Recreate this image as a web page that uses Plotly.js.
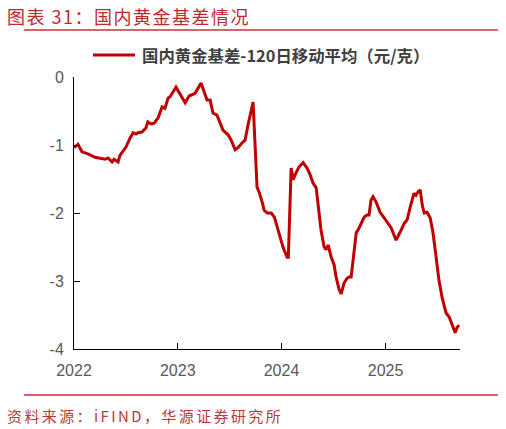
<!DOCTYPE html>
<html>
<head>
<meta charset="utf-8">
<script src="https://cdn.plot.ly/plotly-3.0.1.min.js"></script>
<style>
html,body{margin:0;padding:0;background:#fff;}
#chart{width:506px;height:429px;}
</style>
</head>
<body>
<div id="chart"></div>
<script>
// ---- data ----
const dates = [
"2022-01-01","2022-01-15","2022-01-29","2022-02-19","2022-03-16","2022-04-03","2022-04-20","2022-05-01","2022-05-15","2022-05-22",
"2022-06-05","2022-06-12","2022-07-03","2022-07-17","2022-07-28","2022-08-07","2022-08-14","2022-08-28","2022-09-11","2022-09-18",
"2022-09-29","2022-10-10","2022-10-24","2022-11-07","2022-11-17","2022-11-28","2022-12-05","2022-12-26","2023-01-09","2023-01-27",
"2023-02-10","2023-03-03","2023-03-24","2023-04-04","2023-04-14","2023-04-25","2023-05-05","2023-05-19","2023-05-30","2023-06-09",
"2023-06-27","2023-07-08","2023-07-22","2023-08-01","2023-08-15","2023-08-26","2023-09-05","2023-09-13","2023-09-23","2023-10-07",
"2023-10-14","2023-10-25","2023-11-01","2023-11-12","2023-11-26","2023-12-07","2023-12-17","2023-12-28","2024-01-07","2024-01-21",
"2024-01-25","2024-02-04","2024-02-11","2024-02-21","2024-03-03","2024-03-17","2024-03-31","2024-04-11","2024-04-21","2024-05-02",
"2024-05-09","2024-05-19","2024-05-30","2024-06-06","2024-06-13","2024-06-24","2024-07-04","2024-07-11","2024-07-22","2024-07-29",
"2024-08-08","2024-08-19","2024-08-26","2024-09-02","2024-09-09","2024-09-20","2024-09-30","2024-10-11","2024-10-18","2024-10-28",
"2024-11-04","2024-11-11","2024-11-18","2024-11-29","2024-12-13","2024-12-27","2025-01-10","2025-01-21","2025-02-07","2025-02-14",
"2025-02-25","2025-03-08","2025-03-18","2025-03-29","2025-04-08","2025-04-11","2025-04-18","2025-04-25","2025-05-03","2025-05-10",
"2025-05-17","2025-05-27","2025-06-07","2025-06-17","2025-06-28","2025-07-08","2025-07-19","2025-08-02","2025-08-13","2025-08-20",
"2025-09-03","2025-09-10","2025-09-17"
];
const basis = [
-1.04,-0.99,-1.10,-1.13,-1.18,-1.19,-1.21,-1.19,-1.25,-1.21,
-1.25,-1.15,-1.03,-0.90,-0.82,-0.84,-0.82,-0.81,-0.75,-0.66,
-0.69,-0.68,-0.60,-0.44,-0.46,-0.31,-0.29,-0.15,-0.26,-0.38,
-0.28,-0.24,-0.09,-0.22,-0.34,-0.34,-0.53,-0.56,-0.68,-0.78,
-0.85,-0.93,-1.07,-1.04,-0.97,-0.93,-0.71,-0.56,-0.37,-1.62,
-1.69,-1.84,-1.96,-2.00,-2.00,-2.06,-2.21,-2.35,-2.51,-2.65,
-2.65,-1.34,-1.51,-1.41,-1.32,-1.26,-1.34,-1.44,-1.56,-1.63,
-1.91,-2.25,-2.50,-2.54,-2.47,-2.65,-2.76,-2.94,-3.13,-3.19,
-3.03,-2.96,-2.94,-2.94,-2.69,-2.29,-2.22,-2.13,-2.06,-2.03,
-2.03,-1.81,-1.76,-1.84,-1.99,-2.07,-2.15,-2.22,-2.40,-2.35,
-2.25,-2.15,-2.10,-1.91,-1.74,-1.71,-1.74,-1.69,-1.66,-1.88,
-2.00,-1.99,-2.07,-2.29,-2.65,-2.99,-3.24,-3.47,-3.53,-3.60,
-3.76,-3.68,-3.65
];
const yTicks = [0,-1,-2,-3,-4];
const xTickVals = ["2022-01-01","2023-01-01","2024-01-01","2025-01-01"];
const xTickText = ["2022","2023","2024","2025"];
const seriesName = "国内黄金基差-120日移动平均（元/克）";
const chartTitle = "图表 31：国内黄金基差情况";
const sourceText = "资料来源：iFIND，华源证券研究所";

const RED = "#C00000";
const CJK = "'Noto Sans CJK SC', 'Liberation Sans', sans-serif";

const trace = {
  x: dates, y: basis, type: "scatter", mode: "lines", name: seriesName,
  line: {color: RED, width: 3}, showlegend: false, hoverinfo: "skip"
};

const layout = {
  width: 506, height: 429,
  margin: {l: 74, r: 46, t: 77, b: 80},
  paper_bgcolor: "#fff", plot_bgcolor: "#fff",
  font: {family: "'Liberation Sans', Arial, sans-serif", color: "#595959", size: 16},
  xaxis: {
    type: "date", range: ["2022-01-01", "2025-09-20"],
    tickvals: xTickVals, ticktext: xTickText,
    ticks: "inside", ticklen: 6, tickcolor: "#000", tickwidth: 1,
    ticklabelstandoff: 7,
    showline: true, linecolor: "#000", linewidth: 1,
    showgrid: false, zeroline: false,
    tickfont: {size: 16, color: "#595959"}
  },
  yaxis: {
    range: [-4, 0], tickvals: yTicks, ticktext: yTicks.map(String),
    ticks: "inside", ticklen: 6, tickcolor: "#000", tickwidth: 1,
    ticklabelstandoff: 6,
    showline: true, linecolor: "#000", linewidth: 1,
    showgrid: false, zeroline: false,
    tickfont: {size: 16, color: "#595959"}
  },
  shapes: [
    {type: "line", xref: "paper", yref: "paper", x0: -0.13, x1: 1.098, y0: 1 + (77-30)/272, y1: 1 + (77-30)/272,
     line: {color: "#C8323A", width: 1.5}},
    {type: "line", xref: "paper", yref: "paper", x0: -0.13, x1: 1.098, y0: -(395-349)/272, y1: -(395-349)/272,
     line: {color: "#C8323A", width: 1.5}},
    {type: "line", xref: "paper", yref: "paper", x0: (93-74)/386, x1: (135-74)/386, y0: 1 + (77-55)/272, y1: 1 + (77-55)/272,
     line: {color: RED, width: 3}}
  ],
  annotations: [
    {xref: "paper", yref: "paper", x: -0.179, y: 1 + (77-16)/272, xanchor: "left", yanchor: "middle",
     text: '<span style="letter-spacing:1.5px">' + chartTitle + '</span>', showarrow: false,
     font: {family: CJK, size: 18, color: "#C0282D"}},
    {xref: "paper", yref: "paper", x: (140-74)/386, y: 1 + (77-55)/272, xanchor: "left", yanchor: "middle",
     text: seriesName, showarrow: false, font: {family: CJK, size: 16.4, color: "#404040", weight: "bold"}},
    {xref: "paper", yref: "paper", x: -0.179, y: -(415-349)/272, xanchor: "left", yanchor: "middle",
     text: '<span style="letter-spacing:2.4px">' + sourceText + '</span>', showarrow: false,
     font: {family: CJK, size: 15, color: "#B83A3A"}}
  ]
};

Plotly.newPlot("chart", [trace], layout, {staticPlot: true, displayModeBar: false});
</script>
</body>
</html>
